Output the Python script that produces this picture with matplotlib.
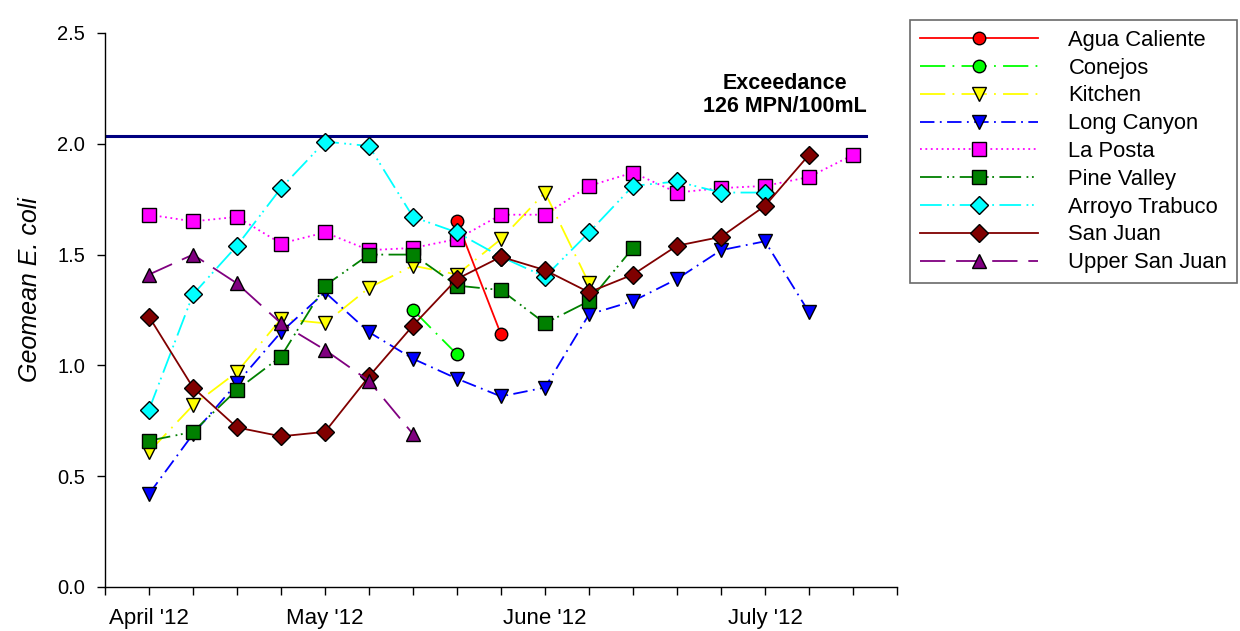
import matplotlib
matplotlib.use("Agg")
import matplotlib.pyplot as plt
import numpy as np

plt.rcParams.update({
    "font.family": ["Liberation Sans", "DejaVu Sans"],
    "font.size": 14.5,
})

nan = np.nan

# weekly sampling slots (1 .. 17), April through late July 2012
WEEKS = np.arange(1, 18)
MONTH_TICKS = [1, 5, 10, 15]
MONTH_LABELS = ["April '12", "May '12", "June '12", "July '12"]

# log10 geomean E. coli per site, one value per weekly slot
AGUA_CALIENTE = [nan, nan, nan, nan, nan, nan, nan, 1.65, 1.14,
                 nan, nan, nan, nan, nan, nan, nan, nan]
CONEJOS = [nan, nan, nan, nan, nan, nan, 1.25, 1.05, nan,
           nan, nan, nan, nan, nan, nan, nan, nan]
KITCHEN = [0.61, 0.82, 0.97, 1.21, 1.19, 1.35, 1.45, 1.41, 1.57,
           1.78, 1.37, nan, nan, nan, nan, nan, nan]
LONG_CANYON = [0.42, 0.69, 0.92, 1.15, 1.33, 1.15, 1.03, 0.94, 0.86,
               0.90, 1.23, 1.29, 1.39, 1.52, 1.56, 1.24, nan]
LA_POSTA = [1.68, 1.65, 1.67, 1.55, 1.60, 1.52, 1.53, 1.57, 1.68,
            1.68, 1.81, 1.87, 1.78, 1.80, 1.81, 1.85, 1.95]
PINE_VALLEY = [0.66, 0.70, 0.89, 1.04, 1.36, 1.50, 1.50, 1.36, 1.34,
               1.19, 1.29, 1.53, nan, nan, nan, nan, nan]
ARROYO_TRABUCO = [0.80, 1.32, 1.54, 1.80, 2.01, 1.99, 1.67, 1.60, 1.49,
                  1.40, 1.60, 1.81, 1.83, 1.78, 1.78, nan, nan]
SAN_JUAN = [1.22, 0.90, 0.72, 0.68, 0.70, 0.95, 1.18, 1.39, 1.49,
            1.43, 1.33, 1.41, 1.54, 1.58, 1.72, 1.95, nan]
UPPER_SAN_JUAN = [1.41, 1.50, 1.37, 1.19, 1.07, 0.93, 0.69, nan, nan,
                  nan, nan, nan, nan, nan, nan, nan, nan]

EXCEEDANCE = 2.035          # 126 MPN/100mL reference line
EXCEEDANCE_END = 17.3       # line stops just past the last sample

SERIES = [
    ("Agua Caliente", AGUA_CALIENTE, "#FF0000", "o", "-"),
    ("Conejos", CONEJOS, "#00FF00", "o", (0, (14, 4, 1, 4))),
    ("Kitchen", KITCHEN, "#FFFF00", "v", (0, (14, 4, 1, 4))),
    ("Long Canyon", LONG_CANYON, "#0000FF", "v", (0, (8, 3, 1, 3))),
    ("La Posta", LA_POSTA, "#FF00FF", "s", (0, (1, 2))),
    ("Pine Valley", PINE_VALLEY, "#008000", "s", (0, (12, 3, 1, 2, 1, 3))),
    ("Arroyo Trabuco", ARROYO_TRABUCO, "#00FFFF", "D", (0, (12, 3, 1, 2, 1, 3))),
    ("San Juan", SAN_JUAN, "#800000", "D", "-"),
    ("Upper San Juan", UPPER_SAN_JUAN, "#800080", "^", (0, (14, 6))),
]
MARKER_SIZE = {"o": 9, "v": 10.5, "^": 10.5, "s": 10, "D": 9.5}

fig = plt.figure(figsize=(12.4, 6.31), dpi=100)
ax = fig.add_axes([105 / 1240, 44 / 631, 792 / 1240, 554 / 631])

for name, vals, color, marker, ls in SERIES:
    ax.plot(WEEKS, vals, color=color, linestyle=ls, linewidth=1.3,
            marker=marker, markersize=MARKER_SIZE[marker],
            markerfacecolor=color, markeredgecolor="black",
            markeredgewidth=1.0, label=name)

ax.plot([0, EXCEEDANCE_END], [EXCEEDANCE, EXCEEDANCE],
        color="#000080", linewidth=2.2, zorder=1)
ax.text(15.45, EXCEEDANCE + 0.085, "Exceedance\n126 MPN/100mL",
        ha="center", va="bottom", fontweight="bold", fontsize=15.5,
        linespacing=1.15)

# every weekly slot gets a tick; only month starts are labelled
ax.set_xlim(0, 18)
ax.set_ylim(0, 2.5)
ax.set_xticks(MONTH_TICKS)
ax.set_xticklabels(MONTH_LABELS, fontsize=16)
ax.set_xticks(np.arange(0, 19), minor=True)
ax.tick_params(axis="x", which="both", length=5.8, width=1.0,
               direction="out", pad=9)
ax.set_yticks(np.arange(0, 2.51, 0.5))
ax.set_yticklabels([f"{v:.1f}" for v in np.arange(0, 2.51, 0.5)])
ax.tick_params(axis="y", length=5.8, width=1.0, direction="out", pad=8.5)

ax.spines["top"].set_visible(False)
ax.spines["right"].set_visible(False)
ax.spines["left"].set_linewidth(1.0)
ax.spines["bottom"].set_linewidth(1.0)

ax.set_ylabel("Geomean E. coli", fontstyle="italic", fontsize=18)
ax.yaxis.set_label_coords(-0.080, 0.536)

leg = ax.legend(loc="upper left", bbox_to_anchor=(910 / 1240, 1 - 20 / 631),
                bbox_transform=fig.transFigure, fontsize=15.8,
                frameon=True, fancybox=False, handlelength=5.4,
                handletextpad=1.37, labelspacing=0.31, borderpad=0.45,
                borderaxespad=0)
leg.get_frame().set_edgecolor("#444444")
leg.get_frame().set_linewidth(1.2)

fig.savefig("out.png", dpi=100)
